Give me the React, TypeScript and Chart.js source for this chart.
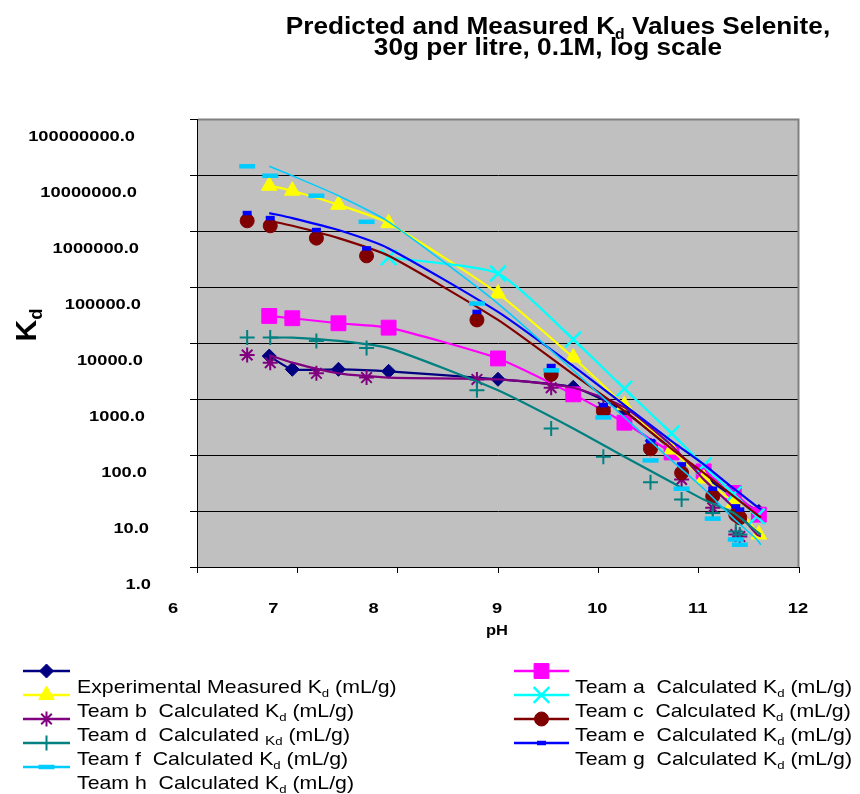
import { useEffect, useRef } from 'react';
import { Chart, registerables } from 'chart.js';
import { drawPoint } from 'chart.js/helpers';

Chart.register(...registerables);

const FONT = '"Liberation Sans", Arial, Helvetica, sans-serif';

// ---- axis ticks ----
const yTickValues = [1, 10, 100, 1000, 10000, 100000, 1000000, 10000000, 100000000];
const yTickLabels = ['1.0', '10.0', '100.0', '1000.0', '10000.0', '100000.0', '1000000.0', '10000000.0', '100000000.0'];
const xTickValues = [6, 7, 8, 9, 10, 11, 12];
const xTickLabels = ['6', '7', '8', '9', '10', '11', '12'];

// ---- pH values ----
const phCalc = [6.72, 6.95, 7.41, 7.91, 9.0, 9.75, 10.26, 10.73, 11.05, 11.35, 11.6];
const phTeamC = [7.91, 9.0, 9.75, 10.26, 10.73, 11.05, 11.35, 11.58];
const phLineShift = [6.72, 6.95, 7.41, 7.91, 9.0, 9.75, 10.26, 10.73, 11.05, 11.35, 11.58, 11.62];
const phMarkShift = [6.5, 6.73, 7.19, 7.69, 8.79, 9.53, 10.05, 10.52, 10.83, 11.14, 11.37, 11.41];

// ---- Kd values (mL/g) ----
const kdExperimental = [5850, 3390, 3390, 3120, 2250, 1620, 600, 125, 43, 18, 9.8];
const kdTeamA = [30400, 27700, 22500, 18800, 5300, 1210, 377, 111, 51, 21, 8.6];
const kdTeamB = [6440000, 5240000, 2940000, 1380000, 76500, 5500, 770, 125, 38, 14, 3.8];
const kdTeamC = [337000, 174000, 11600, 1530, 243, 65, 20, 8.0];
const kdTeamD = [6100, 4460, 2870, 2410, 2240, 1590, 708, 148, 36.7, 11.4, 3.8, 3.5];
const kdTeamE = [1520000, 1240000, 746000, 360000, 25800, 2750, 608, 129, 48, 18.3, 8.6, 7.6];
const kdTeamF = [12500, 12500, 10900, 8100, 1430, 298, 93, 32.6, 16, 9.2, 4.3, 3.8];
const kdTeamG = [2090000, 1700000, 1040000, 489000, 35900, 3880, 778, 177, 68, 25, 12.1, 10.6];
const kdTeamH = [14300000, 9700000, 4270000, 1460000, 50700, 3250, 469, 80, 25, 7.3, 3.1, 2.5];

type Seg = { t: string; sub?: boolean; scale?: number };

interface Series {
  label: Seg[];
  lineX: number[];
  markX: number[];
  ys: number[];
  color: string;
  pointStyle: string;
  radius: number;
  pointBorder: number;
  lineWidth: number;
  col: number;
  row: number;
}

const calc = (name: string): Seg[] => [
  { t: `Team ${name}  Calculated K` },
  { t: 'd', sub: true },
  { t: ' (mL/g)' },
];

const series: Series[] = [
  { label: [{ t: 'Experimental Measured K' }, { t: 'd', sub: true }, { t: ' (mL/g)' }], lineX: phCalc, markX: phCalc, ys: kdExperimental, color: '#000080', pointStyle: 'rectRot', radius: 7, pointBorder: 1, lineWidth: 2.2, col: 0, row: 0 },
  { label: calc('a'), lineX: phCalc, markX: phCalc, ys: kdTeamA, color: '#FF00FF', pointStyle: 'rect', radius: 10.5, pointBorder: 1, lineWidth: 2.2, col: 1, row: 0 },
  { label: calc('b'), lineX: phCalc, markX: phCalc, ys: kdTeamB, color: '#FFFF00', pointStyle: 'triangle', radius: 9, pointBorder: 1, lineWidth: 2.2, col: 0, row: 1 },
  { label: calc('c'), lineX: phTeamC, markX: phTeamC, ys: kdTeamC, color: '#00FFFF', pointStyle: 'crossRot', radius: 11, pointBorder: 2.5, lineWidth: 2.2, col: 1, row: 1 },
  { label: [{ t: 'Team d  Calculated ' }, { t: 'K', sub: true, scale: 0.72 }, { t: 'd', sub: true }, { t: ' (mL/g)' }], lineX: phLineShift, markX: phMarkShift, ys: kdTeamD, color: '#800080', pointStyle: 'star', radius: 7.5, pointBorder: 2, lineWidth: 2.2, col: 0, row: 2 },
  { label: calc('e'), lineX: phLineShift, markX: phMarkShift, ys: kdTeamE, color: '#800000', pointStyle: 'circle', radius: 7, pointBorder: 1, lineWidth: 2.2, col: 1, row: 2 },
  { label: [{ t: 'Team f  Calculated K' }, { t: 'd', sub: true }, { t: ' (mL/g)' }], lineX: phLineShift, markX: phMarkShift, ys: kdTeamF, color: '#008080', pointStyle: 'cross', radius: 7.5, pointBorder: 2, lineWidth: 2.2, col: 0, row: 3 },
  { label: calc('g'), lineX: phLineShift, markX: phMarkShift, ys: kdTeamG, color: '#0000FF', pointStyle: 'line', radius: 4.5, pointBorder: 4.5, lineWidth: 2.2, col: 1, row: 3 },
  { label: calc('h'), lineX: phLineShift, markX: phMarkShift, ys: kdTeamH, color: '#00CCFF', pointStyle: 'line', radius: 8, pointBorder: 4.5, lineWidth: 1.6, col: 0, row: 4 },
];

// Draws text made of normal and subscript pieces; sx stretches glyphs horizontally.
function drawRich(
  ctx: CanvasRenderingContext2D,
  segs: Seg[],
  x: number,
  baseline: number,
  size: number,
  weight: string,
  align: 'left' | 'center' | 'right',
  sx = 1,
  color = '#000'
) {
  ctx.save();
  ctx.textBaseline = 'alphabetic';
  ctx.textAlign = 'left';
  ctx.fillStyle = color;
  const parts = segs.map((s) => {
    const sz = s.sub ? size * (s.scale ?? 0.62) : size;
    ctx.font = `${weight} ${sz}px ${FONT}`;
    return { s, sz, w: ctx.measureText(s.t).width };
  });
  const total = parts.reduce((a, p) => a + p.w, 0) * sx;
  const start = align === 'left' ? x : align === 'center' ? x - total / 2 : x - total;
  ctx.translate(start, baseline);
  ctx.scale(sx, 1);
  let cx = 0;
  for (const p of parts) {
    ctx.font = `${weight} ${p.sz}px ${FONT}`;
    ctx.fillText(p.s.t, cx, p.s.sub ? size * 0.22 : 0);
    cx += p.w;
  }
  ctx.restore();
}

const excelPlugin = {
  id: 'excelLook',
  beforeDraw(chart: any) {
    const { ctx, chartArea: a } = chart;
    ctx.save();
    ctx.fillStyle = '#FFFFFF';
    ctx.fillRect(0, 0, chart.width, chart.height);
    ctx.fillStyle = '#C0C0C0';
    ctx.fillRect(a.left, a.top, a.right - a.left, a.bottom - a.top);
    ctx.restore();
  },
  beforeDatasetsDraw(chart: any) {
    const { ctx, chartArea: a } = chart;
    ctx.save();
    ctx.strokeStyle = '#808080';
    ctx.lineWidth = 2;
    ctx.beginPath();
    ctx.moveTo(a.left + 1, a.top + 0.5);
    ctx.lineTo(a.right - 0.5, a.top + 0.5);
    ctx.lineTo(a.right - 0.5, a.bottom);
    ctx.stroke();
    ctx.restore();
  },
  afterDraw(chart: any) {
    const { ctx } = chart;
    const xs = chart.scales.x;
    const ys = chart.scales.y;

    // title
    drawRich(ctx, [{ t: 'Predicted and Measured K' }, { t: 'd', sub: true, scale: 0.6 }, { t: ' Values Selenite,' }], 558, 33.5, 23, 'bold', 'center', 1.14);
    drawRich(ctx, [{ t: '30g per litre, 0.1M, log scale' }], 548, 55, 23, 'bold', 'center', 1.14);

    // y tick labels
    yTickValues.forEach((v, i) => {
      const py = ys.getPixelForValue(v);
      const right = 151 - 2 * Math.log10(v);
      drawRich(ctx, [{ t: yTickLabels[i] }], right, py + 16 + 5.6, 15.5, 'bold', 'right', 1.18);
    });

    // x tick labels
    xTickValues.forEach((v, i) => {
      const px = xs.getPixelForValue(v) + (v <= 8 ? -24 : -1);
      drawRich(ctx, [{ t: xTickLabels[i] }], px, 607 + 5.6, 15.5, 'bold', 'center', 1.18);
    });

    // axis titles
    drawRich(ctx, [{ t: 'pH' }], 497, 630 + 5.4, 15, 'bold', 'center', 1.1);
    ctx.save();
    ctx.translate(25, 325);
    ctx.rotate(-Math.PI / 2);
    drawRich(ctx, [{ t: 'K' }, { t: 'd', sub: true, scale: 0.62 }], 0, 10.5, 30, 'bold', 'center', 1);
    ctx.restore();

    // legend
    const cols = [
      { x1: 23, x2: 70, mx: 46.5, tx: 77 },
      { x1: 514, x2: 569, mx: 541.5, tx: 575 },
    ];
    series.forEach((s) => {
      const c = cols[s.col];
      const ty = 686 + 24 * s.row;
      const sy = ty - 15;
      ctx.save();
      ctx.strokeStyle = s.color;
      ctx.lineWidth = 2.5;
      ctx.beginPath();
      ctx.moveTo(c.x1, sy);
      ctx.lineTo(c.x2, sy);
      ctx.stroke();
      ctx.fillStyle = s.color;
      ctx.strokeStyle = s.color;
      ctx.lineWidth = s.pointBorder;
      drawPoint(ctx, { pointStyle: s.pointStyle as any, rotation: 0, radius: s.radius, borderWidth: s.pointBorder }, c.mx, sy);
      ctx.restore();
      drawRich(ctx, s.label, c.tx, ty + 6.8, 19, 'normal', 'left', 1.12);
    });
  },
};

export default function App() {
  const ref = useRef<HTMLCanvasElement | null>(null);

  useEffect(() => {
    document.body.style.margin = '0';
    const canvas = ref.current;
    if (!canvas) return;
    const datasets: any[] = [];
    let k = 0;
    series.forEach((s) => {
      datasets.push({
        data: s.lineX.map((x, i) => ({ x, y: s.ys[i] })),
        showLine: true,
        borderColor: s.color,
        borderWidth: s.lineWidth,
        pointRadius: 0,
        tension: 0.2,
        fill: false,
        order: 100 - k++,
      });
      datasets.push({
        data: s.markX.map((x, i) => ({ x, y: s.ys[i] })),
        showLine: false,
        pointStyle: s.pointStyle,
        pointRadius: s.radius,
        pointBorderWidth: s.pointBorder,
        pointBackgroundColor: s.color,
        pointBorderColor: s.color,
        order: 100 - k++,
      });
    });

    const chart = new Chart(canvas, {
      type: 'scatter',
      data: { datasets },
      options: {
        animation: false,
        responsive: false,
        devicePixelRatio: 1,
        events: [],
        layout: { padding: { left: 190, right: 61, top: 119, bottom: 221 } },
        plugins: {
          legend: { display: false },
          title: { display: false },
          tooltip: { enabled: false },
        },
        scales: {
          x: {
            type: 'linear',
            min: 6,
            max: 12,
            ticks: { display: false, stepSize: 1 },
            grid: { drawOnChartArea: false, drawTicks: true, tickLength: 6, color: '#000' },
            border: { color: '#000', width: 1 },
          },
          y: {
            type: 'logarithmic',
            min: 1,
            max: 100000000,
            ticks: { display: false },
            afterBuildTicks: (scale: any) => {
              scale.ticks = yTickValues.map((v) => ({ value: v }));
            },
            grid: { color: '#000', drawTicks: true, tickLength: 7 },
            border: { color: '#000', width: 1 },
          },
        },
      } as any,
      plugins: [excelPlugin],
    });
    return () => chart.destroy();
  }, []);

  return (
    <div style={{ width: 860, height: 794 }}>
      <canvas ref={ref} width={860} height={794} />
    </div>
  );
}
